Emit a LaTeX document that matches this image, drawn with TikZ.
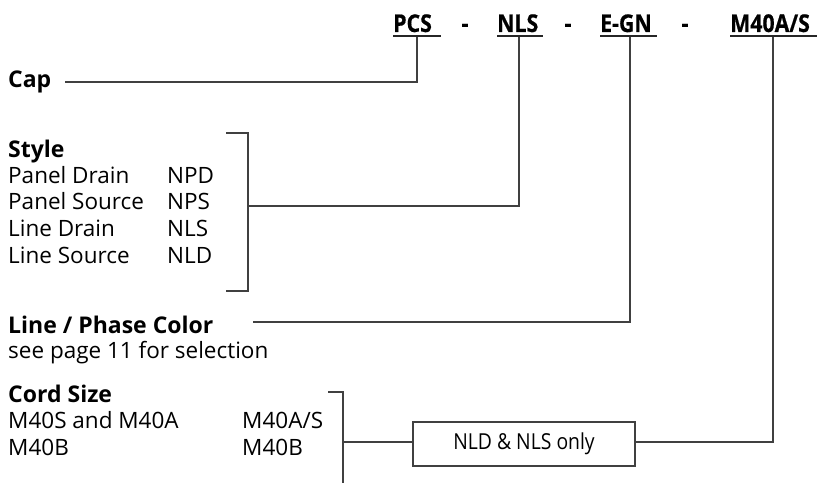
\documentclass[tikz,border=0pt]{standalone}
\usepackage{fontspec}
\setmainfont{Open Sans}
\newfontfamily\codefont[FakeStretch=0.87, FakeBold=0.6]{Open Sans}
\newfontfamily\narrowfont[FakeStretch=0.88]{Open Sans}
\usetikzlibrary{positioning, calc}

\begin{document}
\begin{tikzpicture}[
  x=1pt, y=-1pt,
  % text blocks are placed by their baselines
  txt/.style   = {anchor=base west, inner sep=0pt, font=\fontsize{22.5}{26}\selectfont},
  head/.style  = {txt, font=\fontsize{23}{27}\selectfont\bfseries},
  code/.style  = {anchor=base west, inner sep=0pt, font=\fontsize{24.5}{28}\codefont\bfseries},
  uline/.style = {line width=1.6pt, black!85},
  link/.style  = {line width=1.1pt, black!75},
  tagbox/.style= {draw=black!75, line width=1.1pt, minimum width=222pt, minimum height=44pt,
                  inner sep=0pt, font=\fontsize{22}{26}\narrowfont},
]
\useasboundingbox (0,0) rectangle (817,484);

% ── Part code ────────────────────────────────────────────────────────────────
\node[code] (pcs)  at (393,32) {PCS};
\node[code] (nls)  at (497,32) {NLS};
\node[code] (egn)  at (600,32) {E-GN};
\node[code] (cord) at (730,32) {M40A/S};
\node[code, anchor=base] (d1) at (465,32) {-};
\node[code, anchor=base] (d2) at (568,32) {-};
\node[code, anchor=base] (d3) at (685,32) {-};

\draw[uline] ($(pcs.base west)+(0,4)$)  -- ++(48,0);
\draw[uline] ($(nls.base west)+(0,4)$)  -- ++(46,0);
\draw[uline] ($(egn.base west)+(0,4)$)  -- ++(57,0);
\draw[uline] ($(cord.base west)+(0,4)$) -- ++(87,0);

% drop points below the underlines
\coordinate (pcsdrop)  at (417,37);
\coordinate (nlsdrop)  at (519,37);
\coordinate (egndrop)  at (630,37);
\coordinate (corddrop) at (773,37);

% ── Cap ──────────────────────────────────────────────────────────────────────
\node[head] (cap) at (8,88) {Cap};
\coordinate (capin) at (65,82);
\draw[link] (capin) -| (pcsdrop);

% ── Style ────────────────────────────────────────────────────────────────────
\node[head] (style) at (8,158) {Style};
\foreach \nm/\cd [count=\i] in {Panel Drain/NPD, Panel Source/NPS,
                                Line Drain/NLS, Line Source/NLD}
{
  \node[txt] (sname-\i) at (8,156.3+26.7*\i)   {\nm};
  \node[txt] (scode-\i) at (167,156.3+26.7*\i) {\cd};
}
\coordinate (stytop) at (226,133);
\coordinate (stybot) at (226,291);
\coordinate (stymid) at (248,206);
\draw[link] (stytop) -| (stymid) |- (stybot);
\draw[link] (stymid) -| (nlsdrop);

% ── Line / Phase Color ───────────────────────────────────────────────────────
\node[head] (phase) at (8,333) {Line / Phase Color};
\node[txt]  (page)  at (8,358) {see page 11 for selection};
\coordinate (phasein) at (253,322);
\draw[link] (phasein) -| (egndrop);

% ── Cord Size ────────────────────────────────────────────────────────────────
\node[head] (size) at (8,402) {Cord Size};
\node[txt] (sz-1)  at (8,428)   {M40S and M40A};
\node[txt] (sz-2)  at (8,455)   {M40B};
\node[txt] (szc-1) at (242,428) {M40A/S};
\node[txt] (szc-2) at (242,455) {M40B};
\coordinate (cordtop) at (328,392);
\coordinate (cordbot) at (343,483);
\coordinate (cordmid) at (343,442);
\draw[link] (cordtop) -| (cordbot);

\node[tagbox] (only) at (524,444) {NLD \& NLS only};
\draw[link] (cordmid) -- (only.west |- cordmid);
\draw[link] (only.east |- cordmid) -| (corddrop);

\end{tikzpicture}
\end{document}
